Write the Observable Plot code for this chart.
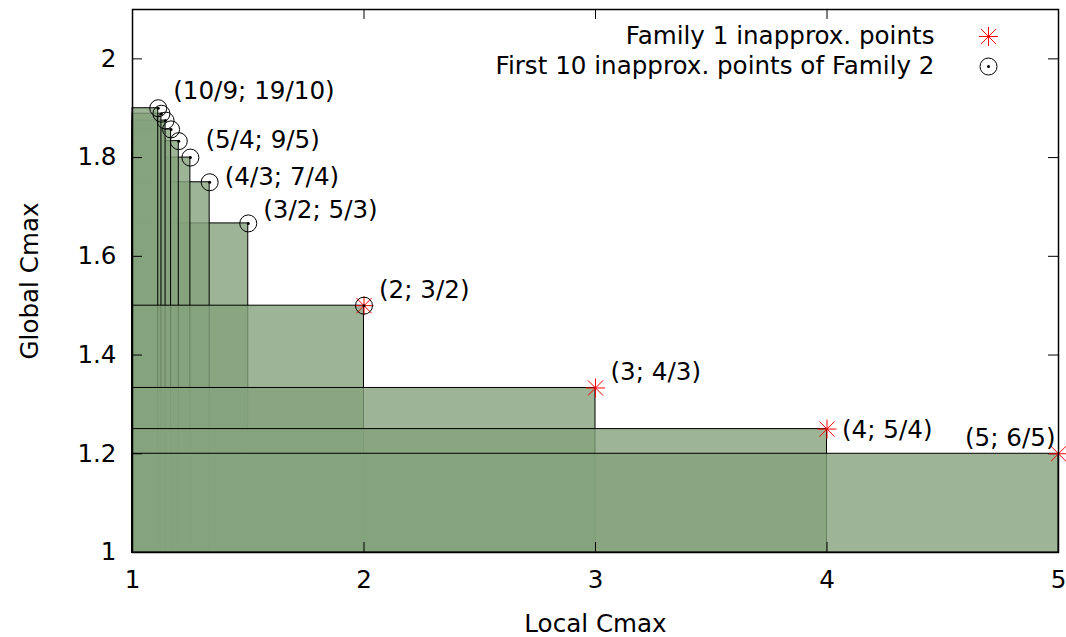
<!DOCTYPE html>
<html><head><meta charset="utf-8">
<script src="https://cdn.jsdelivr.net/npm/d3@7"></script>
<script src="https://cdn.jsdelivr.net/npm/@observablehq/plot@0.6"></script>
<style>html,body{margin:0;padding:0;background:#fff} svg{display:block}</style>
</head><body><div id="chart"></div>
<script>
// ---- data ----
const family1X = [2, 3, 4, 5];
const family1Y = [3/2, 4/3, 5/4, 6/5];
const family2X = [2, 3/2, 4/3, 5/4, 6/5, 7/6, 8/7, 9/8, 10/9];
const family2Y = [3/2, 5/3, 7/4, 9/5, 11/6, 13/7, 15/8, 17/9, 19/10];
const labelText = ["(2; 3/2)", "(3; 4/3)", "(4; 5/4)", "(5; 6/5)", "(3/2; 5/3)", "(4/3; 7/4)", "(5/4; 9/5)", "(10/9; 19/10)"];
const labelX = [2, 3, 4, 5, 3/2, 4/3, 5/4, 10/9];
const labelY = [3/2, 4/3, 5/4, 6/5, 5/3, 7/4, 9/5, 19/10];
const xTicks = [1, 2, 3, 4, 5];
const yTicks = [1, 1.2, 1.4, 1.6, 1.8, 2];
const xDomain = [1, 5];
const yDomain = [1, 2.1];
const legendLabels = ["Family 1 inapprox. points", "First 10 inapprox. points of Family 2"];
const xTitle = "Local Cmax";
const yTitle = "Global Cmax";

// ---- layout / style ----
const W = 1066, H = 637;
const mL = 132, mR = 8, mT = 9, mB = 85;
const pw = W - mL - mR, ph = H - mT - mB;
const FS = 24.6;
const font = "DejaVu Sans, sans-serif";
const fillColor = "#84a27c", fillOp = 0.8;
// label offsets (pixels) relative to each labelled point
const labelOffsets = [
  {dx: 15, dy: -16, anchor: "start"},
  {dx: 15, dy: -16, anchor: "start"},
  {dx: 15, dy: 1, anchor: "start"},
  {dx: -3, dy: -16, anchor: "end"},
  {dx: 15, dy: -13, anchor: "start"},
  {dx: 15, dy: -5, anchor: "start"},
  {dx: 15, dy: -17, anchor: "start"},
  {dx: 15, dy: -17, anchor: "start"}
];

const f1 = family1X.map((x, i) => ({x, y: family1Y[i]}));
const f2 = family2X.map((x, i) => ({x, y: family2Y[i]}));
const f2Rects = f2.slice(1);
const labels = labelText.map((t, i) => ({t, x: labelX[i], y: labelY[i], i}));

const asterisk = {
  draw(ctx, size) {
    const r = Math.sqrt(size / Math.PI);
    const d = r * 0.8;
    ctx.moveTo(-r, 0); ctx.lineTo(r, 0);
    ctx.moveTo(0, -r); ctx.lineTo(0, r);
    ctx.moveTo(-d, -d); ctx.lineTo(d, d);
    ctx.moveTo(-d, d); ctx.lineTo(d, -d);
  }
};

const rectOpts = {
  x1: () => xDomain[0], x2: "x", y1: () => yDomain[0], y2: "y",
  fill: fillColor, fillOpacity: fillOp, stroke: "black", strokeWidth: 1
};
const txt = {fontSize: FS, fill: "black", lineAnchor: "middle"};

const chart = Plot.plot({
  width: W, height: H,
  marginLeft: mL, marginRight: mR, marginTop: mT, marginBottom: mB,
  style: {fontFamily: font, background: "#fff", color: "black"},
  x: {domain: xDomain, axis: null},
  y: {domain: yDomain, axis: null},
  marks: [
    Plot.rect(f2Rects, rectOpts),
    Plot.rect(f1, rectOpts),
    // inward ticks on all four sides
    Plot.tickX(xTicks, {x: d => d, insetTop: ph - 10, stroke: "black"}),
    Plot.tickX(xTicks, {x: d => d, insetBottom: ph - 10, stroke: "black"}),
    Plot.tickY(yTicks, {y: d => d, insetRight: pw - 10, stroke: "black"}),
    Plot.tickY(yTicks, {y: d => d, insetLeft: pw - 10, stroke: "black"}),
    // points
    Plot.dot(f1, {x: "x", y: "y", symbol: asterisk, r: 9.5, stroke: "red", fill: "none", strokeWidth: 1}),
    Plot.dot(f2, {x: "x", y: "y", r: 8.5, stroke: "black", fill: "none", strokeWidth: 1}),
    Plot.dot(f2, {x: "x", y: "y", r: 1.5, fill: "black", stroke: "none"}),
    // point labels
    ...labels.map(l => Plot.text([l], {
      ...txt, x: "x", y: "y", text: "t", dx: labelOffsets[l.i].dx, dy: labelOffsets[l.i].dy,
      textAnchor: labelOffsets[l.i].anchor
    })),
    // tick labels
    Plot.text(xTicks, {...txt, x: d => d, frameAnchor: "bottom", dy: 28, textAnchor: "middle", text: d => String(d)}),
    Plot.text(yTicks, {...txt, y: d => d, frameAnchor: "left", dx: -16, textAnchor: "end", text: d => String(d)}),
    // axis titles
    Plot.text([xTitle], {...txt, frameAnchor: "bottom", dy: 72, textAnchor: "middle", text: d => d}),
    Plot.text([yTitle], {...txt, frameAnchor: "left", dx: -102, rotate: -90, textAnchor: "middle", text: d => d}),
    // legend
    Plot.text([legendLabels[0]], {...txt, frameAnchor: "top-right", dx: -124, dy: 27, textAnchor: "end", text: d => d}),
    Plot.text([legendLabels[1]], {...txt, frameAnchor: "top-right", dx: -124, dy: 57, textAnchor: "end", text: d => d}),
    Plot.dot([0], {frameAnchor: "top-right", dx: -70, dy: 27, symbol: asterisk, r: 9.5, stroke: "red", fill: "none", strokeWidth: 1}),
    Plot.dot([0], {frameAnchor: "top-right", dx: -70, dy: 57, r: 8.5, stroke: "black", fill: "none", strokeWidth: 1}),
    Plot.dot([0], {frameAnchor: "top-right", dx: -70, dy: 57, r: 1.5, fill: "black", stroke: "none"}),
    Plot.frame({stroke: "black", strokeWidth: 1.5})
  ]
});
document.getElementById("chart").appendChild(chart);
</script>
</body></html>
